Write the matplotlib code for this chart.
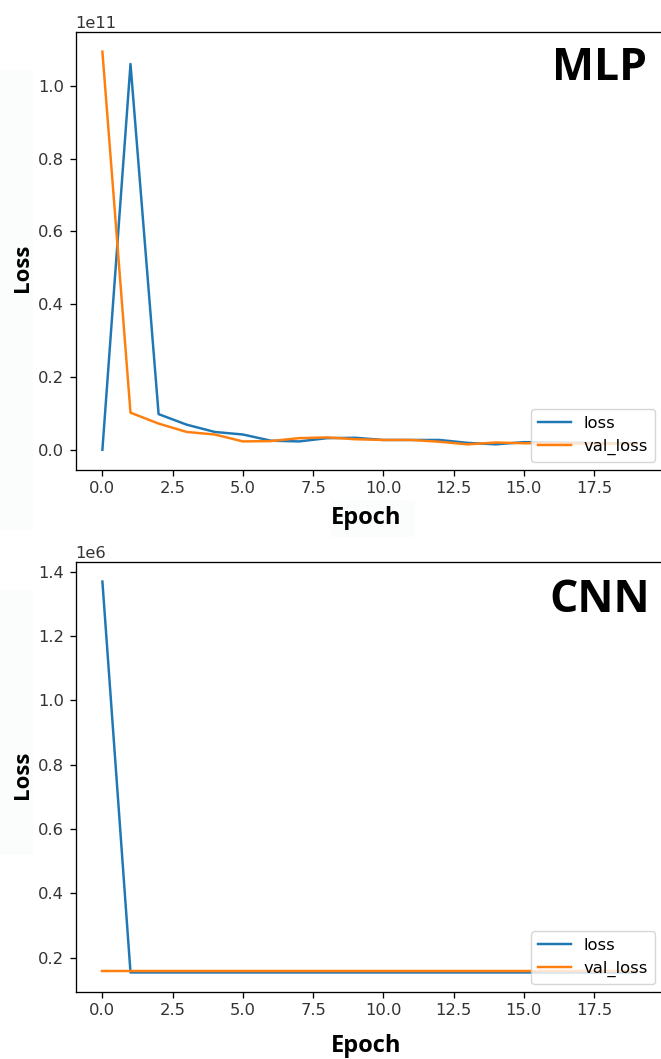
import matplotlib
matplotlib.use("Agg")
import matplotlib.pyplot as plt
from matplotlib.patches import Rectangle

# ---- data ----
epochs = list(range(20))
mlp_loss_e10 = [0.0, 10.6, 0.98, 0.69, 0.49, 0.42, 0.25, 0.23, 0.32, 0.33,
                0.27, 0.27, 0.27, 0.19, 0.15, 0.21, 0.20, 0.19, 0.18, 0.18]
mlp_val_e10 = [10.94, 1.02, 0.72, 0.49, 0.42, 0.23, 0.24, 0.32, 0.34, 0.29,
               0.27, 0.27, 0.22, 0.15, 0.20, 0.18, 0.18, 0.17, 0.17, 0.17]
cnn_loss_e6 = [1.369] + [0.1545] * 19
cnn_val_e6 = [0.159] * 20

mlp_loss = [v * 1e10 for v in mlp_loss_e10]
mlp_val = [v * 1e10 for v in mlp_val_e10]
cnn_loss = [v * 1e6 for v in cnn_loss_e6]
cnn_val = [v * 1e6 for v in cnn_val_e6]

s = 1.18
plt.rcParams.update({
    "font.size": 10 * s,
    "lines.linewidth": 1.5 * s,
    "axes.linewidth": 0.8 * s,
    "xtick.major.size": 3.5 * s,
    "ytick.major.size": 3.5 * s,
    "xtick.major.width": 0.8 * s,
    "ytick.major.width": 0.8 * s,
    "xtick.major.pad": 3.5 * s,
    "ytick.major.pad": 3.5 * s,
})

W, H = 661, 1059
fig = plt.figure(figsize=(W / 100, H / 100), dpi=100)

def fx(x):
    return x / W

def fy(y):
    return 1 - y / H

# very faint background panels behind the added labels
for (x0, y0, x1, y1) in [(0, 70, 33, 530), (0, 590, 33, 855), (330, 500, 415, 537)]:
    fig.patches.append(Rectangle((fx(x0), fy(y1)), fx(x1) - fx(x0), fy(y0) - fy(y1),
                                 transform=fig.transFigure, color="#fbfcfc",
                                 zorder=0, lw=0))

left = 75.7
ax1 = fig.add_axes([fx(left), fy(469.7), fx(663) - fx(left), fy(31.7) - fy(469.7)])
ax1.plot(epochs, mlp_loss, label="loss")
ax1.plot(epochs, mlp_val, label="val_loss")
ax1.legend(loc="lower right")

ax2 = fig.add_axes([fx(left), fy(992), fx(663) - fx(left), fy(562) - fy(992)])
ax2.plot(epochs, cnn_loss, label="loss")
ax2.plot(epochs, cnn_val, label="val_loss")
ax2.legend(loc="lower right")

for ax in (ax1, ax2):
    ax.tick_params(labelcolor="#333333")
    ax.yaxis.get_offset_text().set_color("#333333")

bold = dict(family=["Open Sans", "DejaVu Sans"], fontweight="bold", color="black")
fig.text(fx(22), fy(268), "Loss", rotation=90, ha="center", va="center", fontsize=16, **bold)
fig.text(fx(22), fy(775), "Loss", rotation=90, ha="center", va="center", fontsize=16, **bold)
fig.text(fx(366), fy(518), "Epoch", ha="center", va="center", fontsize=17, **bold)
fig.text(fx(366), fy(1046), "Epoch", ha="center", va="center", fontsize=17, **bold)
fig.text(fx(600), fy(68), "MLP", ha="center", va="center", fontsize=32, **bold)
fig.text(fx(600), fy(600), "CNN", ha="center", va="center", fontsize=32, **bold)

fig.savefig("out.png", dpi=100)
